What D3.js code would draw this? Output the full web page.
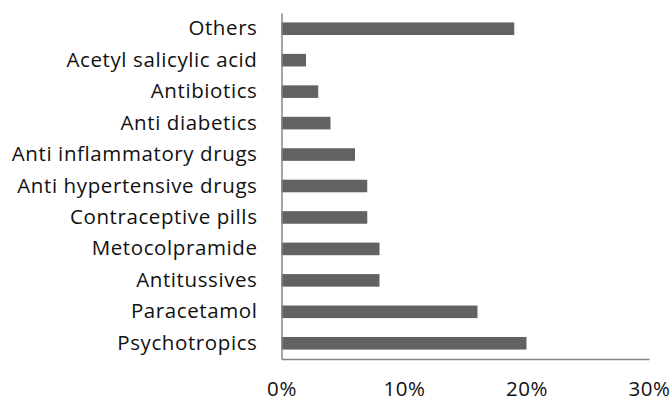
<!DOCTYPE html>
<html>
<head>
<meta charset="utf-8">
<script src="https://cdn.jsdelivr.net/npm/d3@7"></script>
<style>
  body { margin: 0; background: #fff; }
  svg text { font-family: "Open Sans", Lato, sans-serif; fill: #111; }
</style>
</head>
<body>
<svg id="chart" width="671" height="402"></svg>
<script>
// Drug categories, listed top to bottom
const categories = [
  "Others", "Acetyl salicylic acid", "Antibiotics", "Anti diabetics",
  "Anti inflammatory drugs", "Anti hypertensive drugs", "Contraceptive pills",
  "Metocolpramide", "Antitussives", "Paracetamol", "Psychotropics"
];
// Share of each category (percent)
const shares = [19, 2, 3, 4, 6, 7, 7, 8, 8, 16, 20];
const tickValues = [0, 10, 20, 30];

const data = categories.map((c, i) => ({ name: c, value: shares[i] }));

const svg = d3.select("#chart");
const plotLeft = 281.5, plotRight = 649, plotTop = 13, plotBottom = 359;

const x = d3.scaleLinear().domain([0, 30]).range([plotLeft, plotRight]);
const y = d3.scaleBand().domain(categories).range([plotTop, plotBottom]).paddingInner(0.6).paddingOuter(0.3);

// Bars
svg.append("g").selectAll("rect").data(data).join("rect")
  .attr("x", x(0))
  .attr("y", d => y(d.name))
  .attr("width", d => x(d.value) - x(0))
  .attr("height", y.bandwidth())
  .attr("fill", "#626262");

// Category axis
const yAxis = svg.append("g").attr("transform", `translate(${plotLeft},0)`)
  .call(d3.axisLeft(y).tickSize(0).tickPadding(24));
yAxis.select(".domain").attr("stroke", "#868686").attr("stroke-width", 1.5);
yAxis.selectAll("text").attr("font-size", 20.5).attr("letter-spacing", 0.6).attr("fill", "#111");

// Value axis
const xAxis = svg.append("g").attr("transform", `translate(0,${plotBottom})`)
  .call(d3.axisBottom(x).tickValues(tickValues).tickSize(0).tickPadding(22)
    .tickFormat(d => d + "%"));
xAxis.select(".domain").attr("stroke", "#868686").attr("stroke-width", 1.5);
xAxis.selectAll("text").attr("font-size", 20.5).attr("letter-spacing", 0.6).attr("fill", "#111");
</script>
</body>
</html>
